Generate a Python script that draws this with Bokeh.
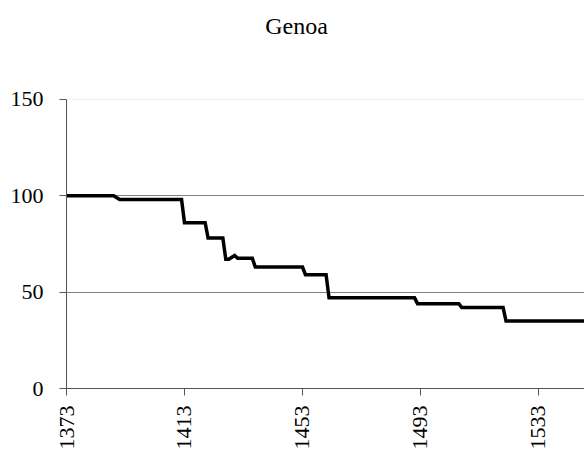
from math import pi
from bokeh.plotting import figure
from bokeh.models import FixedTicker, Span, Range1d, Label
from bokeh.embed import file_html
from bokeh.resources import INLINE

title_text = "Genoa"
years = [1373, 1389, 1391, 1412, 1413, 1420, 1421, 1426, 1427, 1428, 1430, 1431,
         1436, 1437, 1453, 1454, 1461, 1462, 1491, 1492, 1506, 1507, 1521, 1522, 1549]
values = [100, 100, 98, 98, 86, 86, 78, 78, 67, 67, 69, 67.5,
          67.5, 63, 63, 59, 59, 47, 47, 44, 44, 42, 42, 35, 35]
x_ticks = [1373, 1413, 1453, 1493, 1533]
y_ticks = [0, 50, 100, 150]

FONT = "Liberation Serif"
X0, X1 = 1373, 1548.6
Y0, YMAX = 0, 150
FRAME_W = 518
AXIS_TOP_PX, AXIS_BOTTOM_PX = 99, 389      # page y of value 150 and 0
FRAME_TOP_PX = 10
px_per_unit = (AXIS_BOTTOM_PX - AXIS_TOP_PX) / (YMAX - Y0)
Y1 = YMAX + (AXIS_TOP_PX - FRAME_TOP_PX) / px_per_unit

p = figure(width=584, height=452, output_backend="svg", toolbar_location=None,
           x_range=Range1d(X0, X1), y_range=Range1d(Y0, Y1),
           min_border_left=66, min_border_right=0, min_border_top=FRAME_TOP_PX,
           min_border_bottom=452 - AXIS_BOTTOM_PX)
p.outline_line_color = None
p.background_fill_color = "white"
p.border_fill_color = "white"

# title centred over the whole figure (page x = 296, text box top at y = 13)
tx = X0 + (296 - 66) * (X1 - X0) / FRAME_W
ty = YMAX + (AXIS_TOP_PX - 13) / px_per_unit
p.add_layout(Label(x=tx, y=ty, text=title_text, text_font=FONT, text_font_size="24px",
                   text_color="black", text_align="center", text_baseline="top"))

p.line(years, values, line_color="black", line_width=3.5, line_join="miter")

p.xaxis.ticker = FixedTicker(ticks=x_ticks)
p.yaxis.ticker = FixedTicker(ticks=y_ticks)
p.yaxis.bounds = (Y0, YMAX)
p.xaxis.major_label_orientation = pi / 2
for ax in (p.xaxis, p.yaxis):
    ax.axis_line_color = "#555555"
    ax.major_tick_line_color = "#555555"
    ax.major_tick_out = 7
    ax.major_tick_in = 0
    ax.minor_tick_out = 0
    ax.minor_tick_in = 0
    ax.major_label_text_font = FONT
    ax.major_label_text_font_size = "22px"
    ax.major_label_text_color = "black"
p.yaxis.major_label_standoff = 16
p.xaxis.major_label_standoff = 10

p.xgrid.visible = False
p.ygrid.ticker = FixedTicker(ticks=[50, 100])
p.ygrid.grid_line_color = "#808080"
p.ygrid.grid_line_width = 1
p.add_layout(Span(location=YMAX, dimension="width", line_color="#eeeeee", line_width=1))

open("out.html", "w").write(file_html(p, INLINE))
